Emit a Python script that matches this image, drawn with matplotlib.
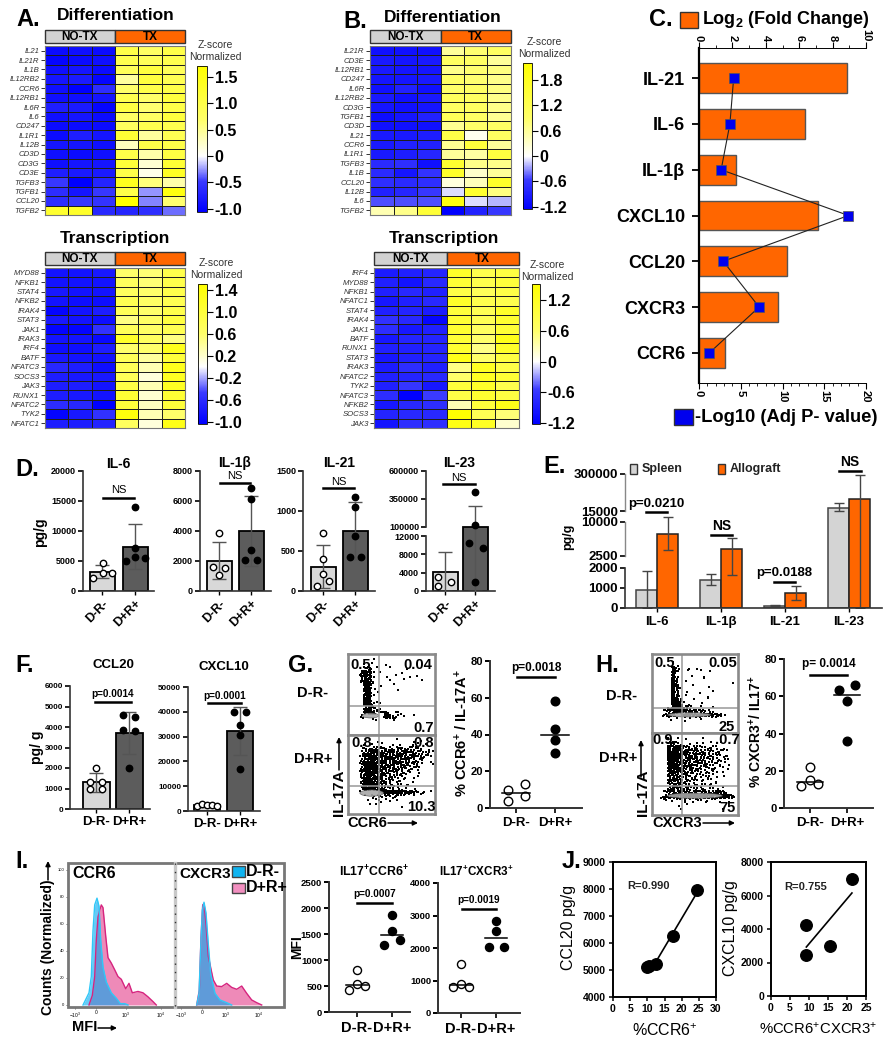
import numpy as np
import matplotlib
matplotlib.use("Agg")
import matplotlib.pyplot as plt
from matplotlib.colors import LinearSegmentedColormap, Normalize
from matplotlib.cm import ScalarMappable
from matplotlib.patches import Rectangle, Ellipse
from matplotlib.lines import Line2D

plt.rcParams['font.family'] = ['Liberation Sans', 'DejaVu Sans']
plt.rcParams['mathtext.fontset'] = 'custom'
plt.rcParams['mathtext.rm'] = 'Liberation Sans'
plt.rcParams['mathtext.bf'] = 'Liberation Sans:bold'
plt.rcParams['mathtext.it'] = 'Liberation Sans:italic'

W, H = 893, 1050

# --- heatmaps
a_diff_genes = ["IL21", "IL21R", "IL1B", "IL12RB2", "CCR6", "IL12RB1", "IL6R", "IL6", "CD247", "IL1R1",
                "IL12B", "CD3D", "CD3G", "CD3E", "TGFB3", "TGFB1", "CCL20", "TGFB2"]
a_diff = [[-.95, -.9, -.95, 1.0, .75, 1.0], [-1, -.95, -.9, .95, .85, .95], [-.9, -.85, -.95, .85, 1.1, .85],
          [-.85, -.8, -1, .45, 1.1, .9], [-.9, -1.05, -.6, .7, 1.0, 1.0], [-.9, -.9, -.85, .95, .7, 1.1],
          [-.75, -.8, -1, 1.05, .65, 1.0], [-.9, -.85, -.95, .75, .75, 1.1], [-.95, -.95, -.95, .8, .95, .95],
          [-.95, -.75, -.85, 1.2, .45, .9], [-.85, -.85, -.9, .3, 1.0, 1.0], [-.9, -.95, -.9, 1.0, .4, 1.05],
          [-.9, -.85, -.85, 1.15, .2, 1.2], [-.75, -.8, -.8, 1.0, .1, 1.35], [-.5, -1.05, -.7, 1.4, .6, .4],
          [-.6, -.85, -.5, 1.0, -.25, 1.55], [-.6, -.5, -.55, 1.7, -.3, .65], [1.25, 1.3, -.65, -.7, -.6, -.35]]
a_trans_genes = ["MYD88", "NFKB1", "STAT4", "NFKB2", "IRAK4", "STAT3", "JAK1", "IRAK3", "IRF4", "BATF",
                 "NFATC3", "SOCS3", "JAK3", "RUNX1", "NFATC2", "TYK2", "NFATC1"]
a_trans = [[-.85, -.85, -.8, .6, .55, .85], [-.85, -.85, -.85, .7, .55, .85], [-.8, -.85, -.85, .7, .6, .85],
           [-.85, -.9, -.9, .8, .65, .8], [-1, -.85, -.75, .75, .6, .85], [-.8, -.85, -.9, .5, .65, .95],
           [-1, -1, -.55, .75, .65, .8], [-.85, -.85, -.95, 1.15, .7, .5], [-.9, -.9, -.75, .6, .6, 1.25],
           [-.8, -.85, -.85, .75, .4, 1.0], [-.65, -.75, -.9, .75, .3, 1.25], [-.75, -.8, -.8, .75, .15, 1.2],
           [-.75, -.75, -.85, .9, .3, 1.2], [-.75, -.8, -.85, 1.05, .2, 1.05], [-.6, -.65, -1.05, 1.0, .25, 1.0],
           [-1, -.8, -.55, 1.4, .3, .6], [-.75, -.75, -.7, .7, .15, 1.3]]
b_diff_genes = ["IL21R", "CD3E", "IL12RB1", "CD247", "IL6R", "IL12RB2", "CD3G", "TGFB1", "CD3D", "IL21",
                "CCR6", "IL1R1", "TGFB3", "IL1B", "CCL20", "IL12B", "IL6", "TGFB2"]
b_diff = [[-1.05, -1.05, -1.05, .6, .85, 1.0], [-.95, -1, -.95, 1.0, .95, .6], [-.95, -1, -1, .7, .85, .75],
          [-1, -1, -.95, .95, .85, .7], [-1.05, -.85, -1.05, .9, .95, .75], [-.95, -1.05, -.95, 1.05, 1.0, .7],
          [-1, -1.05, -1, 1.0, 1.0, .7], [-1.1, -1, -.85, 1.1, .95, .65], [-1.05, -1.05, -1.05, .65, .9, .95],
          [-.95, -.95, -.9, 1.3, .1, 1.0], [-.95, -.85, -.85, .65, 1.45, .6], [-.95, -.9, -.8, .6, .55, 1.4],
          [-.75, -.7, -1.05, 1.6, .7, .7], [-.75, -1, -.65, 1.65, .3, .6], [-.7, -.75, -.7, .2, .4, 1.65],
          [-.85, -.8, -.6, -.1, 1.6, .75], [-.5, -.5, -.5, 2.0, -.1, -.2], [.45, .7, 1.5, -1.25, -.85, -.6]]
b_trans_genes = ["IRF4", "MYD88", "NFKB1", "NFATC1", "STAT4", "IRAK4", "JAK1", "BATF", "RUNX1", "STAT3",
                 "IRAK3", "NFATC2", "TYK2", "NFATC3", "NFKB2", "SOCS3", "JAK3"]
b_trans = [[-.9, -.85, -.8, 1.15, .85, .95], [-.85, -1, -.75, 1.05, .85, 1.0], [-.85, -.75, -.85, .9, .75, .9],
           [-.95, -.85, -.75, 1.15, .85, .85], [-.85, -.8, -.9, 1.0, .8, 1.15], [-.65, -.75, -1.15, 1.05, .8, 1.1],
           [-.7, -.95, -.85, 1.1, .7, 1.05], [-.95, -.8, -.8, 1.05, .6, 1.3], [-.85, -.85, -.8, 1.1, .5, 1.15],
           [-.95, -.85, -.8, 1.3, .6, .95], [-.9, -.7, -.85, .5, 1.2, .9], [-.85, -.8, -.75, .6, 1.2, 1.05],
           [-.85, -.6, -.95, 1.0, 1.15, .85], [-.7, -1.3, -.55, .9, 1.1, .95], [-.95, -.75, -.7, .3, 1.0, 1.3],
           [-.8, -.75, -.75, 1.5, .8, .55], [-1, -.7, -.7, 1.35, 1.2, .2]]

# --- C
c_labels = ["IL-21", "IL-6", "IL-1β", "CXCL10", "CCL20", "CXCR3", "CCR6"]
c_fold = [8.85, 6.35, 2.2, 7.15, 5.25, 4.75, 1.55]
c_pval = [4.15, 3.7, 2.65, 17.9, 2.9, 7.2, 1.25]

# --- D: bar, lower err, upper err, points
groups = ["D-R-", "D+R+"]
il6_bar, il6_lo, il6_hi = [3200, 7400], [2200, 3700], [4300, 11200]
il6_neg, il6_neg_j = [2100, 3000, 4700, 3000], [-.28, .03, .03, .31]
il6_pos, il6_pos_j = [5000, 5600, 7200, 5500, 14000], [-.28, 0, 0, .3, 0]
il1b_bar, il1b_lo, il1b_hi = [2000, 4000], [800, 1650], [3300, 6300]
il1b_neg, il1b_neg_j = [3900, 1600, 1100, 1550], [0, -.2, 0, .2]
il1b_pos, il1b_pos_j = [6850, 6150, 2750, 2050, 2100], [0, 0, 0, -.18, .18]
il21_bar, il21_lo, il21_hi = [300, 750], [40, 400], [580, 1110]
il21_neg, il21_neg_j = [730, 400, 210, 130, 60], [0, 0, 0, .2, -.2]
il21_pos, il21_pos_j = [1180, 1050, 690, 420, 420], [0, 0, 0, -.15, .2]
il23_bar, il23_lo, il23_hi = [4200, 100000], [0, 0], [8600, 287000]
il23_neg, il23_neg_j = [3000, 1200, 2000], [-.25, -.25, .2]
il23_pos, il23_pos_j = [412000, 115000, 10400, 9300, 2000], [0, 0, -.2, .25, 0]

# --- E
e_labels = ["IL-6", "IL-1β", "IL-21", "IL-23"]
e_spleen = [917, 1400, 100, 40700]
e_spleen_lo = [0, 1150, 80, 15000]
e_spleen_hi = [1830, 1700, 150, 74000]
e_allo = [7450, 4075, 733, 110000]
e_allo_lo = [3850, 1670, 383, 0]
e_allo_hi = [12500, 6400, 1100, 292000]

# --- F
ccl20_bar, ccl20_lo, ccl20_hi = [1300, 3700], [850, 2680], [1750, 4750]
ccl20_neg, ccl20_neg_j = [2000, 1300, 1300, 1000, 1000], [0, -.18, .18, .18, -.18]
ccl20_pos, ccl20_pos_j = [4600, 4500, 3850, 3800, 2000], [-.18, .18, -.18, .18, 0]
cxcl10_bar, cxcl10_lo, cxcl10_hi = [2500, 32300], [1800, 22500], [3200, 42000]
cxcl10_neg, cxcl10_neg_j = [2200, 2800, 2500, 2600, 2000], [-.3, -.15, 0, .15, .3]
cxcl10_pos, cxcl10_pos_j = [40000, 40000, 34500, 30500, 17000], [-.18, .18, 0, 0, 0]

# --- flow cytometry dot density (digit = how dense that cell looks)
g_neg = ["......................", "......1...............", "....1.1..1............", "....34.1..1...1.......",
         "...4761.1....1........", "...5861..1..1..1.1....", "...5771...1...1...1...", "....871.1..1..........",
         "....861.....1.........", "....77.1..............", "....781...............", "....68.1..............",
         "....792.1.............", "....68421.............", "....5772351.21........", "...3.....6732.1.1.....",
         "......11...1.........."]
g_pos = ["......................", ".......1....1...1.1...", "....1.1.1..1.1..21.1..", "...1234333323333232.1.",
         "...2467655454543432221", "...2578765555444433211", "...3688765554543322.1.", "...3888766544443221..1",
         "...3898665444332221...", "...3898654433322.1....", "...378865433221.11....", "...278865332211.1.....",
         "...2788743221111......", "...288865322211.1.....", "...1....889987654321.1", "....1.322232211.1.....",
         ".....1.2111.1.........", ".....1.1..............", ".............1........"]
h_neg = ["......................", "......................", ".....1................", ".....53..1.1..........",
         ".....63..1..1.1.......", ".....71...1..1........", ".....72.1....1........", ".....73...1.........1.",
         ".....751......1......", ".....83.1...1..1.....", ".....84.1.....1......", ".....852..1...1......",
         ".....87311..1........", "....2885321.1..1.....", "...3578775434321.....", "..1377..55555567831..",
         "....1.1.11..1........"]
h_pos = ["......................", "....1.1.1....1........", "....3421.1.1.1.1.1....", "....7775333321222.1...",
         "....8875544433332211..", "....8975544443332221..", "....8975444433322211..", "....8875444333322111..",
         "....7865443332221111..", "....6755433322221.1...", "....5654332222211.1...", "....5554322211111.....",
         "....4543322111111.....", "....5554332222111.1...", "...3555544444445654...", "..2567778888888888876.",
         "...2.1112112111111.1..", "......1..1............", ".......1..........1..."]
# where the dots of one cell sit, in the order they get filled
cell_spots = [(.17, .55), (.62, .12), (.88, .71), (.35, .9), (.5, .42), (.08, .2), (.72, .38), (.28, .1), (.6, .8)]

# --- G, H, I dot plots
g_neg_v, g_neg_j = [3.6, 10, 13.2, 6.3], [-.21, -.21, .24, .24]
g_pos_v, g_pos_j = [58, 43, 37, 30], [0, 0, 0, 0]
g_means = [8, 40]
h_neg_v, h_neg_j = [22, 15, 12, 13], [0, 0, -.23, .22]
h_pos_v, h_pos_j = [63.5, 66, 57.5, 36], [-.22, .22, 0, 0]
h_means = [14, 60.5]
i1_neg_v, i1_neg_j = [814, 545, 430, 506], [0, 0, -.23, .22]
i1_pos_v, i1_pos_j = [1860, 1564, 1295, 1390], [0, 0, -.22, .22]
i1_means = [510, 1490]
i2_neg_v, i2_neg_j = [1505, 886, 804, 804], [0, 0, -.22, .23]
i2_pos_v, i2_pos_j = [2825, 2536, 2041, 2041], [0, 0, -.21, .22]
i2_means = [850, 2300]

# --- I histograms
ccr6_neg_x = [15, 17.7, 21, 23.3, 25, 26.7, 29, 31, 32.7, 35, 38.3, 43.3, 48.3, 52.3, 56.7, 60]
ccr6_neg_y = [0, 4, 9, 21, 55, 74, 79, 73, 48, 28, 17, 9, 5, 1, 1, 0]
ccr6_pos_x = [21, 24.3, 26.7, 28.3, 30, 31.7, 33.3, 35, 37.7, 40, 43.3, 46.7, 50, 53.3, 57.7, 61,
              64.3, 70, 75, 80, 85, 88.3]
ccr6_pos_y = [0, 7, 21, 48, 65, 70, 74, 72, 51, 35, 31, 26, 21, 19, 12, 16, 9, 10, 9, 6, 2.5, 0]
cxcr3_neg_x = [21.7, 24, 26, 27.3, 29, 31, 33.3, 35.7, 40, 45, 51.7, 56.7]
cxcr3_neg_y = [0, 8.6, 48, 70, 76, 68, 45, 23, 8.6, 3.7, 1.7, 0]
cxcr3_pos_x = [21.7, 24.3, 26, 27.7, 29, 31, 33.3, 38.3, 41.7, 46.7, 51.7, 56.7, 61.7, 66.7, 71.7, 76.7, 81.7, 86.7]
cxcr3_pos_y = [0, 11, 50, 74, 75, 60, 36, 18.5, 14, 13.6, 16, 13, 11.6, 14, 8.6, 3.7, 1.7, 0]

# --- J
j1_x, j1_y = [9.9, 10.35, 12.6, 17.6, 24.4], [5110, 5148, 5235, 6247, 7950]
j1_fit_x, j1_fit_y = [12.3, 24.4], [5260, 7850]
j2_x, j2_y = [9.3, 9.3, 15.6, 21.2], [4259, 2428, 2985, 6965]
j2_fit_x, j2_fit_y = [9.3, 21.3], [2925, 6150]

ORANGE = '#ff6600'
fig = plt.figure(figsize=(W / 100, H / 100), dpi=100)


def ax_px(x0, y0, x1, y1):
    return fig.add_axes([x0 / W, 1 - y1 / H, (x1 - x0) / W, (y1 - y0) / H])


def ft(x, y, s, **kw):
    kw.setdefault('ha', 'center')
    kw.setdefault('va', 'center')
    return fig.text(x / W, 1 - y / H, s, **kw)


def hline(x0, x1, y, lw=1.8, color='black'):
    fig.add_artist(Line2D([x0 / W, x1 / W], [1 - y / H, 1 - y / H], lw=lw, color=color))


def vline(x, y0, y1, lw=1.8, color='black'):
    fig.add_artist(Line2D([x / W, x / W], [1 - y0 / H, 1 - y1 / H], lw=lw, color=color))


def box(x0, y0, x1, y1, fc, ec='#333333', lw=1.0):
    fig.add_artist(Rectangle((x0 / W, 1 - y1 / H), (x1 - x0) / W, (y1 - y0) / H, fc=fc, ec=ec, lw=lw,
                             transform=fig.transFigure))


def arrow(x0, y0, x1, y1):
    fig.add_artist(matplotlib.patches.FancyArrowPatch(
        (x0 / W, 1 - y0 / H), (x1 / W, 1 - y1 / H), transform=fig.transFigure,
        arrowstyle='-|>', mutation_scale=7, lw=1.1, color='black', shrinkA=0, shrinkB=0))


def sig(text, x0, x1, ytext, yline, size=7.2, bold=None):
    if bold is None:
        bold = text != 'NS'
    ft((x0 + x1) / 2, ytext, text, fontsize=size, fontweight='bold' if bold else 'normal')
    hline(x0, x1, yline)


def heatmap(rect, head_y, cbar, vmin, vmax, ticks, ticklabels, genes, vals, zx, zy):
    x0, y0, x1, y1 = rect
    xm = (x0 + x1) / 2
    box(x0, head_y[0], xm, head_y[1], '#d2d2d2')
    box(xm, head_y[0], x1, head_y[1], ORANGE)
    ft((x0 + xm) / 2, sum(head_y) / 2, "NO-TX", fontsize=8.5, fontweight='bold')
    ft((xm + x1) / 2, sum(head_y) / 2, "TX", fontsize=8.5, fontweight='bold')
    frac = (0 - vmin) / (vmax - vmin)
    # colours saturate quickly away from zero, as in the original key
    cmap = LinearSegmentedColormap.from_list('byw', [(0, '#0000ff'), (frac * .55, '#3a3aff'), (frac, '#ffffff'),
                                                     (frac + (1 - frac) * .4, '#ffff6a'), (1, '#ffff00')])
    norm = Normalize(vmin, vmax)
    ax = ax_px(x0, y0, x1, y1)
    data = np.array(vals)
    ax.pcolormesh(np.arange(7), np.arange(len(genes) + 1), data, cmap=cmap, norm=norm,
                  edgecolors='#1e1e1e', linewidth=0.55)
    ax.invert_yaxis()
    ax.set_xticks([])
    ax.set_yticks(np.arange(len(genes)) + .5)
    ax.set_yticklabels(genes, fontsize=5.6, style='italic', color='#333333')
    ax.tick_params(axis='y', length=3, width=.7, pad=1, color='#333333')
    for s in ax.spines.values():
        s.set_color('#777777')
    cax = ax_px(*cbar)
    cb = fig.colorbar(ScalarMappable(norm=norm, cmap=cmap), cax=cax)
    cb.set_ticks(ticks)
    cb.set_ticklabels(ticklabels)
    cb.ax.tick_params(labelsize=11.5, length=4, width=.8, pad=1.5)
    for t in cb.ax.get_yticklabels():
        t.set_fontweight('bold')
    cb.outline.set_linewidth(.6)
    ft(zx, zy, "Z-score\nNormalized", fontsize=7.5, color='#333333', linespacing=1.25)


heatmap((45, 46, 185, 215), (30, 43), (197, 66, 207, 212), -1.06, 1.71,
        [-1, -.5, 0, .5, 1, 1.5], ["-1.0", "-0.5", "0", "0.5", "1.0", "1.5"], a_diff_genes, a_diff, 215, 51)
heatmap((45, 268, 185, 428), (252, 265), (198, 284, 207, 424), -1.04, 1.5,
        [-1, -.6, -.2, .2, .6, 1, 1.4], ["-1.0", "-0.6", "-0.2", "0.2", "0.6", "1.0", "1.4"],
        a_trans_genes, a_trans, 216, 269)
heatmap((370, 46, 511, 215), (30, 43), (523, 63, 532, 209), -1.25, 2.2,
        [-1.2, -.6, 0, .6, 1.2, 1.8], ["-1.2", "-0.6", "0", "0.6", "1.2", "1.8"], b_diff_genes, b_diff, 544, 48)
heatmap((374, 268, 519, 428), (252, 265), (532, 284, 540, 424), -1.22, 1.52,
        [-1.2, -.6, 0, .6, 1.2], ["-1.2", "-0.6", "0", "0.6", "1.2"], b_trans_genes, b_trans, 547, 271)

ft(116, 16, "Differentiation", fontsize=12.5, fontweight='bold')
ft(115, 238, "Transcription", fontsize=12.5, fontweight='bold')
ft(443, 17, "Differentiation", fontsize=12.5, fontweight='bold')
ft(444, 238, "Transcription", fontsize=12.5, fontweight='bold')

# panel letters
for lx, ly, s in [(28, 20, "A."), (355, 21, "B."), (661, 20, "C."), (27, 470, "D."), (555, 467, "E."),
                  (25, 665, "F."), (301, 666, "G."), (607, 666, "H."), (22, 862, "I."), (572, 862, "J.")]:
    ft(lx, ly, s, fontsize=17, fontweight='bold')

# C
ax = ax_px(699, 48, 866, 383)
pos = np.arange(len(c_labels))
ax.barh(pos, c_fold, height=.65, color=ORANGE, edgecolor='#555555', linewidth=1)
ax.set_xlim(0, 10)
ax.set_ylim(6.66, -.66)
ax.set_yticks(pos)
ax.set_yticklabels(c_labels, fontsize=13, fontweight='bold')
ax.tick_params(axis='y', length=5, width=1.3, pad=5)
ax.spines['right'].set_visible(False)
ax.spines['bottom'].set_visible(False)
ax.spines['left'].set_linewidth(1.6)
ax.spines['top'].set_linewidth(.7)
axb = ax.twiny()
axb.plot(c_pval, pos, '-s', color='#222222', lw=.8, mfc='#0000ee', mec='#555555', mew=.5, ms=6.5)
axb.set_xlim(0, 20)
# twiny swaps the tick sides, so set them only now
ax.xaxis.tick_top()
axb.xaxis.tick_bottom()
ax.set_xticks(range(0, 11, 2))
ax.set_xticks(range(0, 11), minor=True)
axb.set_xticks(range(0, 21, 5))
axb.set_xticks(range(0, 21), minor=True)
for a in (ax, axb):
    a.tick_params(axis='x', labelsize=8, pad=1, labelrotation=-90, length=4)
    a.tick_params(axis='x', which='minor', length=2)
    for t in a.get_xticklabels():
        t.set_fontweight('bold')
for s in ['right', 'top', 'left']:
    axb.spines[s].set_visible(False)
axb.spines['bottom'].set_visible(True)
axb.spines['bottom'].set_linewidth(.7)
box(680, 12, 698, 28, ORANGE)
ft(702, 20, r"Log$_{\mathbf{2}}$ (Fold Change)", ha='left', fontsize=13, fontweight='bold')
box(674, 409, 693, 425, '#0000ee')
ft(695, 417, "-Log10 (Adj P- value)", ha='left', fontsize=13.2, fontweight='bold')


def dots(ax, center, vals, jit, open_face, ms=4.6):
    fc = 'white' if open_face else 'black'
    ax.plot(np.array(jit) + center, vals, 'o', mfc=fc, mec='black', mew=1.0, ms=ms, clip_on=False, zorder=5)


def style_axes(ax, labelsize=6.5, lw=1.2):
    ax.spines['top'].set_visible(False)
    ax.spines['right'].set_visible(False)
    ax.spines['left'].set_linewidth(lw)
    ax.spines['bottom'].set_linewidth(lw)
    ax.spines['left'].set_color('#333333')
    ax.spines['bottom'].set_color('#333333')
    ax.tick_params(axis='y', labelsize=labelsize, length=3.5, width=lw, pad=1.5)
    for t in ax.get_yticklabels():
        t.set_fontweight('bold')


def bar_panel(xl, xr, c0, c1, ytop, ybot, ylim, yticks, ylabels, bar, lo, hi, neg, neg_j, pos_v, pos_j,
              width, xrot=45, xsize=9, ms=4.6, ysize=6.5):
    ax = ax_px(xl, ytop, xr, ybot)
    sp = c1 - c0
    ax.bar([0, 1], bar, width=width / sp, color=['#d8d8d8', '#5c5c5c'], edgecolor='black', linewidth=1.3)
    for i in range(2):
        ax.errorbar(i, bar[i], yerr=[[bar[i] - lo[i]], [hi[i] - bar[i]]], color='#555555', lw=1.0,
                    capsize=5, capthick=1.0, zorder=4)
    dots(ax, 0, neg, neg_j, True, ms)
    dots(ax, 1, pos_v, pos_j, False, ms)
    ax.set_xlim((xl - c0) / sp, 1 + (xr - c1) / sp)
    ax.set_ylim(*ylim)
    ax.set_yticks(yticks)
    ax.set_yticklabels(ylabels)
    ax.set_xticks([0, 1])
    if xrot:
        ax.set_xticklabels(groups, rotation=xrot, ha='right', rotation_mode='anchor', fontsize=xsize,
                           fontweight='bold')
    else:
        ax.set_xticklabels(groups, fontsize=xsize, fontweight='bold')
    ax.tick_params(axis='x', length=3, width=1, pad=2)
    style_axes(ax, labelsize=ysize)
    return ax


bar_panel(83, 154, 102, 135, 471, 591, (0, 20000), [0, 5000, 10000, 15000, 20000],
          ["0", "5000", "10000", "15000", "20000"], il6_bar, il6_lo, il6_hi, il6_neg, il6_neg_j, il6_pos, il6_pos_j, 25)
bar_panel(200, 271, 219, 251, 471, 591, (0, 8000), [0, 2000, 4000, 6000, 8000],
          ["0", "2000", "4000", "6000", "8000"], il1b_bar, il1b_lo, il1b_hi, il1b_neg, il1b_neg_j, il1b_pos, il1b_pos_j, 25)
bar_panel(303, 375, 323, 355, 471, 591, (0, 1500), [0, 500, 1000, 1500],
          ["0", "500", "1000", "1500"], il21_bar, il21_lo, il21_hi, il21_neg, il21_neg_j, il21_pos, il21_pos_j, 25)
ax = bar_panel(426, 495, 445, 475, 471, 591, (0, 600000), [0, 4000, 8000, 12000, 100000, 350000, 600000],
               ["0", "4000", "8000", "12000", "100000", "350000", "600000"],
               il23_bar, il23_lo, il23_hi, il23_neg, il23_neg_j, il23_pos, il23_pos_j, 25)
il23_val = [0, 12000, 100000, 600000]
il23_px = [0, 55, 64, 120]
ax.set_yscale('function', functions=(lambda v: np.interp(v, il23_val, il23_px),
                                     lambda p: np.interp(p, il23_px, il23_val)))
ax.set_ylim(0, 600000)
ax.set_yticks([0, 4000, 8000, 12000, 100000, 350000, 600000])
ax.set_yticklabels(["0", "4000", "8000", "12000", "100000", "350000", "600000"])
ax.minorticks_off()
for t in ax.get_yticklabels():
    t.set_fontweight('bold')
ax.spines['left'].set_visible(False)
vline(426, 591, 536, lw=1.2, color='#333333')
vline(426, 527, 471, lw=1.2, color='#333333')

ft(40, 532, "pg/g", rotation=90, fontsize=10, fontweight='bold')
ft(118, 464, "IL-6", fontsize=10, fontweight='bold')
ft(235, 463, "IL-1β", fontsize=10, fontweight='bold')
ft(339, 463, "IL-21", fontsize=10, fontweight='bold')
ft(459, 463, "IL-23", fontsize=10, fontweight='bold')
sig("NS", 103, 134, 490, 498, size=8)
sig("NS", 220, 250, 476, 483, size=8)
sig("NS", 323, 354, 482, 488, size=8)
sig("NS", 443, 475, 478, 484, size=8)

# E
ax = ax_px(625, 474, 882, 608)
e_val = [0, 2000, 2500, 10000, 15000, 300000]
e_px = [0, 40, 52, 86, 97, 134]
ax.set_yscale('function', functions=(lambda v: np.interp(v, e_val, e_px), lambda p: np.interp(p, e_px, e_val)))
e_pos = np.arange(len(e_labels))
bw = 21 / 64
ax.bar(e_pos - bw / 2, e_spleen, width=bw, color='#d4d4d4', edgecolor='#444444', linewidth=1.1)
ax.bar(e_pos + bw / 2, e_allo, width=bw, color=ORANGE, edgecolor='#222222', linewidth=1.1)
for i in e_pos:
    ax.errorbar(i - bw / 2, e_spleen[i], yerr=[[e_spleen[i] - e_spleen_lo[i]], [e_spleen_hi[i] - e_spleen[i]]],
                color='#444444', lw=1, capsize=3.5)
    ax.errorbar(i + bw / 2, e_allo[i], yerr=[[e_allo[i] - e_allo_lo[i]], [e_allo_hi[i] - e_allo[i]]],
                color='#444444', lw=1, capsize=3.5)
ax.set_xlim((625 - 657) / 64, 3 + (882 - 849) / 64)
ax.set_ylim(0, 300000)
ax.set_yticks([0, 1000, 2000, 2500, 10000, 15000, 300000])
ax.set_yticklabels(["0", "1000", "2000", "2500", "10000", "15000", "300000"])
ax.minorticks_off()
ax.set_xticks(e_pos)
ax.set_xticklabels(e_labels, fontsize=9.5, fontweight='bold')
ax.tick_params(axis='x', length=3, width=1, pad=3)
style_axes(ax, labelsize=9.5)
ax.spines['left'].set_visible(False)
vline(625, 608, 568, lw=1.2, color='#333333')
vline(625, 556, 522, lw=1.0, color='#888888')
vline(625, 511, 474, lw=1.0, color='#888888')
ft(568, 537, "pg/g", rotation=90, fontsize=9, fontweight='bold')
box(630, 464, 637, 474, '#d4d4d4')
ft(642, 469, "Spleen", ha='left', fontsize=9, fontweight='bold', color='#222222')
box(718, 464, 725, 474, ORANGE)
ft(730, 469, "Allograft", ha='left', fontsize=9, fontweight='bold', color='#222222')
sig("p=0.0210", 646, 667, 504, 512, size=9.5)
sig("NS", 711, 732, 526, 535, size=10, bold=True)
sig("p=0.0188", 774, 795, 573, 582, size=9.5)
sig("NS", 839, 861, 462, 471, size=10, bold=True)

# F
bar_panel(70, 150, 96, 129, 686, 809, (0, 6000), range(0, 6001, 1000),
          [str(v) for v in range(0, 6001, 1000)], ccl20_bar, ccl20_lo, ccl20_hi, ccl20_neg, ccl20_neg_j,
          ccl20_pos, ccl20_pos_j, 27, xrot=0, xsize=9.5, ysize=5.8)
bar_panel(188, 260, 207, 240, 687, 811, (0, 50000), range(0, 50001, 10000),
          [str(v) for v in range(0, 50001, 10000)], cxcl10_bar, cxcl10_lo, cxcl10_hi, cxcl10_neg, cxcl10_neg_j,
          cxcl10_pos, cxcl10_pos_j, 26, xrot=0, xsize=9.5, ysize=5.8)
ft(113, 665, "CCL20", fontsize=9.5, fontweight='bold')
ft(224, 667, "CXCL10", fontsize=9.5, fontweight='bold')
ft(37, 747, "pg/ g", rotation=90, fontsize=10, fontweight='bold')
sig("p=0.0014", 95, 131, 694, 702)
sig("p=0.0001", 208, 241, 696, 703)


def flow(rect, grid, smear, qx, qy):
    x0, y0, x1, y1 = rect
    ax = ax_px(x0, y0, x1, y1)
    xs, ys = [], []
    for r, row in enumerate(grid):
        for c, ch in enumerate(row):
            if ch != '.':
                # start the fill order somewhere else in each cell so no lattice shows
                start = (r * 4 + c * 7) % len(cell_spots)
                for k in range(int(ch)):
                    sx, sy = cell_spots[(start + k) % len(cell_spots)]
                    xs.append(c + sx)
                    ys.append(r + sy)
    ax.scatter(xs, ys, s=1.4, marker='s', color='black', linewidths=0)
    ax.add_patch(Ellipse((smear[0], smear[1]), smear[2], smear[3], fc='#a6a6a6', ec='#444444', lw=.4, alpha=.9))
    ax.axvline(qx, color='#999999', lw=1.1)
    ax.axhline(qy, color='#999999', lw=1.1)
    ax.set_xlim(0, 22)
    ax.set_ylim(20, 0)
    ax.set_xticks([])
    ax.set_yticks([])
    for s in ax.spines.values():
        s.set_color('#8a8a8a')
        s.set_linewidth(1.9)


flow((348, 654, 435, 735), g_neg, (5.7, 15.2, 4.2, 1.2), 7.8, 12.9)
flow((348, 735, 435, 814), g_pos, (6, 14.7, 6, 1.6), 7.8, 12.9)
flow((652, 654, 738, 733), h_neg, (9.5, 15.4, 11, 1.1), 7.8, 13.6)
flow((652, 733, 738, 815), h_pos, (11, 15.3, 14, 1.3), 7.8, 12.9)

fl = dict(fontsize=10.5, fontweight='bold')
ft(361, 665, "0.5", **fl)
ft(418, 665, "0.04", **fl)
ft(424, 728, "0.7", **fl)
ft(362, 743, "0.8", **fl)
ft(424, 743, "0.8", **fl)
ft(421, 807, "10.3", **fl)
ft(313, 693, "D-R-", fontsize=10.5, fontweight='bold')
ft(313, 759, "D+R+", fontsize=10.5, fontweight='bold')
ft(339, 793, "IL-17A", rotation=90, fontsize=11, fontweight='bold')
arrow(339, 770, 339, 737)
ft(367, 823, "CCR6", fontsize=10.5, fontweight='bold')
arrow(388, 823, 418, 823)

ft(665, 663, "0.5", **fl)
ft(723, 663, "0.05", **fl)
ft(727, 727, "25", **fl)
ft(663, 740, "0.9", **fl)
ft(727, 740, ".0.7", **fl)
ft(728, 808, "75", **fl)
ft(622, 696, "D-R-", fontsize=10.5, fontweight='bold')
ft(618, 758, "D+R+", fontsize=10.5, fontweight='bold')
ft(643, 793, "IL-17A", rotation=90, fontsize=11, fontweight='bold')
arrow(641, 777, 641, 740)
ft(677, 823, "CXCR3", fontsize=10.5, fontweight='bold')
arrow(703, 823, 735, 823)


def dot_panel(xl, xr, c0, c1, ytop, ybot, ymax, yticks, neg, neg_j, pos_v, pos_j, means, size=9.5, ms=6.2,
              ysize=8, half=.36):
    ax = ax_px(xl, ytop, xr, ybot)
    sp = c1 - c0
    dots(ax, 0, neg, neg_j, True, ms)
    dots(ax, 1, pos_v, pos_j, False, ms)
    for i, m in enumerate(means):
        ax.plot([i - half, i + half], [m, m], color='black', lw=1.1, zorder=6)
    ax.set_xlim((xl - c0) / sp, 1 + (xr - c1) / sp)
    ax.set_ylim(0, ymax)
    ax.set_yticks(yticks)
    ax.set_xticks([0, 1])
    ax.set_xticklabels(groups, fontsize=size, fontweight='bold')
    ax.tick_params(axis='x', length=3.5, width=1.2, pad=3)
    style_axes(ax, labelsize=ysize, lw=1.4)
    return ax


dot_panel(490, 582, 516, 555, 661, 808, 80, range(0, 81, 20), g_neg_v, g_neg_j, g_pos_v, g_pos_j, g_means)
ft(462, 733, r"% CCR6$^{\mathbf{+}}$ / IL-17A$^{\mathbf{+}}$", rotation=90, fontsize=10.5, fontweight='bold')
sig("p=0.0018", 517, 555, 668, 677, size=8.5)
dot_panel(784, 873, 810, 847, 659, 808, 80, range(0, 81, 20), h_neg_v, h_neg_j, h_pos_v, h_pos_j, h_means)
ft(756, 732, r"% CXCR3$^{\mathbf{+}}$/ IL17$^{\mathbf{+}}$", rotation=90, fontsize=10, fontweight='bold')
sig("p= 0.0014", 810, 847, 664, 675, size=8.5)

# I histograms
PINK, PINK_E, CYAN = '#ee8ab8', '#d6247f', '#00a8f0'


def hist(x0, x1, neg_x, neg_y, pos_x, pos_y, xticks, show_y):
    ax = ax_px(x0, 863, x1, 1007)
    ax.fill_between(pos_x, pos_y, color=PINK, lw=0)
    ax.plot(pos_x, pos_y, color=PINK_E, lw=1)
    ax.fill_between(neg_x, neg_y, color=CYAN, alpha=.6, lw=0)
    ax.plot(neg_x, neg_y, color='#30c8f8', lw=1)
    ax.set_xlim(0, x1 - x0)
    ax.set_ylim(-1.5, 105)
    ax.set_xticks(xticks)
    ax.set_xticklabels(["$-10^3$", "0", "$10^3$", "$10^4$"], fontsize=3.5)
    ax.tick_params(axis='both', length=1.5, width=.4, pad=1)
    if show_y:
        ax.set_yticks(range(0, 101, 20))
        ax.tick_params(axis='y', labelsize=3)
    else:
        ax.set_yticks([])
    for s in ax.spines.values():
        s.set_visible(False)


hist(68, 175, ccr6_neg_x, ccr6_neg_y, ccr6_pos_x, ccr6_pos_y, [7, 28, 58, 93], True)
hist(175, 284, cxcr3_neg_x, cxcr3_neg_y, cxcr3_pos_x, cxcr3_pos_y, [6, 27, 51, 84], False)
fig.add_artist(Rectangle((68 / W, 1 - 1007 / H), 216 / W, 144 / H, fc='none', ec='#777777', lw=2,
                         transform=fig.transFigure))
fig.add_artist(Line2D([175 / W, 175 / W], [1 - 863 / H, 1 - 1007 / H], color='#c8c8c8', lw=2.4))
fig.add_artist(Line2D([175 / W, 175 / W], [1 - 863 / H, 1 - 1007 / H], color='#333333', lw=1,
                      linestyle=(0, (1, 5))))
ft(72, 874, "CCR6", ha='left', fontsize=11.5, fontweight='bold')
ft(179, 874, "CXCR3", ha='left', fontsize=11, fontweight='bold')
box(232, 866, 245, 877, '#10b4f0', ec='#444444')
ft(246, 872, "D-R-", ha='left', fontsize=11.5, fontweight='bold')
box(232, 883, 245, 893, '#f28fc0', ec='#444444')
ft(246, 888, "D+R+", ha='left', fontsize=11.5, fontweight='bold')
ft(48, 947, "Counts (Normalized)", rotation=90, fontsize=10, fontweight='bold')
arrow(48, 880, 48, 861)
ft(72, 1027, "MFI", ha='left', fontsize=10.5, fontweight='bold')
arrow(98, 1028, 117, 1028)

dot_panel(329, 410, 357, 392, 882, 1012, 2500, range(0, 2501, 500), i1_neg_v, i1_neg_j, i1_pos_v, i1_pos_j,
          i1_means, size=10.5, ms=5.8, half=.32, ysize=6.8)
dot_panel(438, 520, 461, 496, 883, 1013, 4000, range(0, 4001, 1000), i2_neg_v, i2_neg_j, i2_pos_v, i2_pos_j,
          i2_means, size=10.5, ms=5.8, half=.32, ysize=6.8)
ft(374, 872, r"IL17$^{\mathbf{+}}$CCR6$^{\mathbf{+}}$", fontsize=8.8, fontweight='bold')
ft(476, 872, r"IL17$^{\mathbf{+}}$CXCR3$^{\mathbf{+}}$", fontsize=8.4, fontweight='bold')
ft(297, 947, "MFI", rotation=90, fontsize=10, fontweight='bold')
sig("p=0.0007", 357, 392, 894, 903)
sig("p=0.0019", 462, 496, 900, 909)


# J
def corr(rect, xs, ys, fx, fy, xlim, ylim, xticks, yticks, rtext, rpos, ylab, ylab_pos, xlab, xlab_pos, xsize=11.5):
    ax = ax_px(*rect)
    ax.plot(fx, fy, color='black', lw=1.2)
    ax.plot(xs, ys, 'o', color='black', ms=8.3)
    ax.set_xlim(*xlim)
    ax.set_ylim(*ylim)
    ax.set_xticks(xticks)
    ax.set_yticks(yticks)
    ax.tick_params(labelsize=7.5, length=3, width=1.1, pad=2)
    for t in ax.get_xticklabels() + ax.get_yticklabels():
        t.set_fontweight('bold')
    for s in ax.spines.values():
        s.set_linewidth(1.4)
    ft(rpos[0], rpos[1], rtext, fontsize=8, fontweight='bold', color='#222222')
    ft(ylab_pos[0], ylab_pos[1], ylab, rotation=90, fontsize=11.5)
    ft(xlab_pos[0], xlab_pos[1], xlab, fontsize=xsize)


corr((613, 862, 716, 997), j1_x, j1_y, j1_fit_x, j1_fit_y, (0, 30), (4000, 9000), range(0, 31, 5),
     range(4000, 9001, 1000), "R=0.990", (648, 886), "CCL20 pg/g", (568, 927), r"%CCR6$^{+}$", (665, 1031))
corr((771, 862, 866, 996), j2_x, j2_y, j2_fit_x, j2_fit_y, (0, 25), (0, 8000), range(0, 26, 5),
     range(0, 8001, 2000), "R=0.755", (806, 887), "CXCL10 pg/g", (731, 928), r"%CCR6$^{+}$CXCR3$^{+}$", (818, 1029),
     xsize=10.7)

fig.savefig("out.png", dpi=100)
